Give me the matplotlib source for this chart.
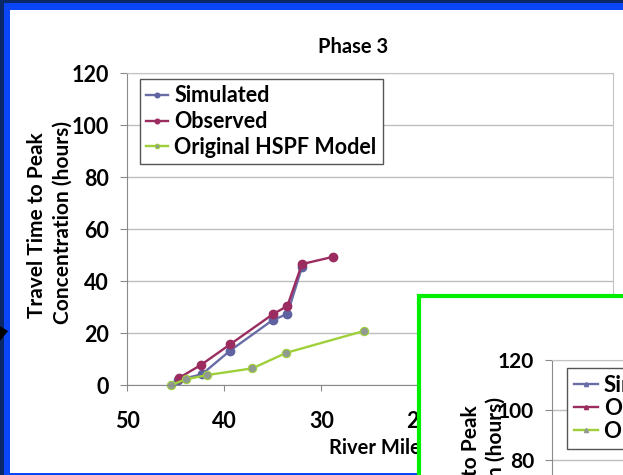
import matplotlib.pyplot as plt
from matplotlib.patches import Rectangle, Polygon
from matplotlib.lines import Line2D

# data
river_mile_sim = [44.8, 42.3, 39.4, 35.0, 33.5, 32.0]
travel_sim = [1.9, 4.1, 13.2, 25.0, 27.3, 45.3]
river_mile_obs = [44.7, 42.4, 39.4, 35.0, 33.5, 32.0, 28.8]
travel_obs = [2.6, 7.7, 15.6, 27.2, 30.4, 46.5, 49.3]
river_mile_hspf = [45.5, 43.9, 41.8, 37.1, 33.6, 25.6]
travel_hspf = [0.0, 2.2, 3.8, 6.4, 12.4, 20.8]
series_names = ["Simulated", "Observed", "Original HSPF Model"]
y_ticks = [0, 20, 40, 60, 80, 100, 120]
x_ticks = [50, 40, 30, 20, 10, 0]

W, H = 623, 475
FONT = "Lato"
NAVY, BLUE = "#0a2868", "#0a46f5"
SIM_C, OBS_C, HSPF_C, MARK_GRAY = "#6a6ca8", "#9b2c60", "#9fd03a", "#909a90"


def box(x0, y0, x1, y1):
    # pixel box (top-left origin) -> figure fraction rect
    return [x0 / W, 1 - y1 / H, (x1 - x0) / W, (y1 - y0) / H]


def rect(x0, y0, x1, y1, **kw):
    l, b, w, h = box(x0, y0, x1, y1)
    return Rectangle((l, b), w, h, transform=fig.transFigure, **kw)


def px_text(x, y, s, **kw):
    return fig.text(x / W, 1 - y / H, s, fontweight='bold', **kw)


plt.rcParams['font.family'] = [FONT, 'DejaVu Sans']
plt.rcParams['font.weight'] = 'bold'

fig = plt.figure(figsize=(W / 100, H / 100), dpi=100, facecolor="white")

# slide frame strips
for x0, y0, x1, y1, c in [(0, 0, W, 3, NAVY), (0, 0, 4, H, NAVY),
                          (4, 3, W, 10, BLUE), (4, 3, 10, H, BLUE),
                          (4, 473, 420, H, BLUE)]:
    fig.add_artist(rect(x0, y0, x1, y1, facecolor=c, edgecolor="none", zorder=-2))
fig.add_artist(Polygon([(0, 1 - 326 / H), (8 / W, 1 - 331 / H), (0, 1 - 341 / H)],
                       closed=True, transform=fig.transFigure, facecolor="black",
                       edgecolor="none", zorder=-1))


def style_axes(ax, size):
    ax.set_facecolor("none")
    ax.set_ylim(0, 120)
    ax.set_yticks(y_ticks)
    ax.grid(axis='y', color="#bdbdbd", linewidth=1.0)
    ax.set_axisbelow(True)
    for s in ['top', 'right']:
        ax.spines[s].set_color("#c4c4c4")
    for s in ['left', 'bottom']:
        ax.spines[s].set_color("#8a8a8a")
    ax.tick_params(axis='y', direction='out', length=5, color="#8a8a8a", pad=8,
                   labelsize=size)
    ax.tick_params(axis='x', direction='out', length=4, color="#8a8a8a", pad=15,
                   labelsize=size)


# main chart
ax = fig.add_axes(box(127, 73, 613, 385))
style_axes(ax, 15.5)
ax.set_xlim(50, 0)
ax.set_xticks(x_ticks)
ax.plot(river_mile_sim, travel_sim, color=SIM_C, lw=1.7, marker='o', ms=6,
        mfc="#5e62a0", mec="#5e62a0", label=series_names[0], clip_on=False)
ax.plot(river_mile_obs, travel_obs, color=OBS_C, lw=1.7, marker='o', ms=6,
        mfc=OBS_C, mec=OBS_C, label=series_names[1], clip_on=False)
ax.plot(river_mile_hspf, travel_hspf, color=HSPF_C, lw=1.7, marker='o', ms=6,
        mfc=MARK_GRAY, mec=HSPF_C, mew=0.8, label=series_names[2], clip_on=False)
ax.legend(loc='upper left', bbox_to_anchor=(140 / W, 1 - 79 / H),
          bbox_transform=fig.transFigure, fancybox=False, framealpha=1,
          edgecolor="#555555", fontsize=15.5, handlelength=1.0, handletextpad=0.3,
          labelspacing=0.22, borderpad=0.3, borderaxespad=0, markerscale=0.55)
ax.legend_.get_frame().set_linewidth(1.0)

px_text(375, 448, "River Mile", ha='center', va='center', fontsize=14.5)
px_text(37, 225, "Travel Time to Peak", rotation=90, ha='center', va='center', fontsize=15)
px_text(63, 222, "Concentration (hours)", rotation=90, ha='center', va='center', fontsize=15)
px_text(353, 47, "Phase 3", ha='center', va='center', fontsize=14.5)

# keep the right margin of the slide clean
fig.add_artist(rect(616, 10, W + 5, 294, facecolor="white", edgecolor="none", zorder=10))

# overlapping second slide chart (green frame)
fig.add_artist(rect(419, 296, W + 30, H + 30, facecolor="white", edgecolor="#00ee00",
                    linewidth=3.0, zorder=5))
ax2 = fig.add_axes(box(552, 360, 860, 660), zorder=6)
style_axes(ax2, 15)
ax2.set_xlim(0, 1)
ax2.set_xticks([])
handles = [Line2D([], [], color=c, lw=1.7, marker='^', ms=5, mfc=m, mec=m)
           for c, m in [(SIM_C, "#6a6ca8"), (OBS_C, OBS_C), (HSPF_C, MARK_GRAY)]]
ax2.legend(handles, series_names, loc='upper left', bbox_to_anchor=(567 / W, 1 - 368 / H),
           bbox_transform=fig.transFigure, fancybox=False, framealpha=1,
           edgecolor="#555555", fontsize=16, handlelength=1.1, handletextpad=0.25,
           labelspacing=0.1, borderpad=0.3, borderaxespad=0, markerscale=0.6)
px_text(471, 405, "Travel Time to Peak", rotation=90, ha='center', va='top',
        fontsize=15, zorder=7)
px_text(496, 397, "Concentration (hours)", rotation=90, ha='center', va='top',
        fontsize=15, zorder=7)

fig.savefig("out.png", dpi=100)
